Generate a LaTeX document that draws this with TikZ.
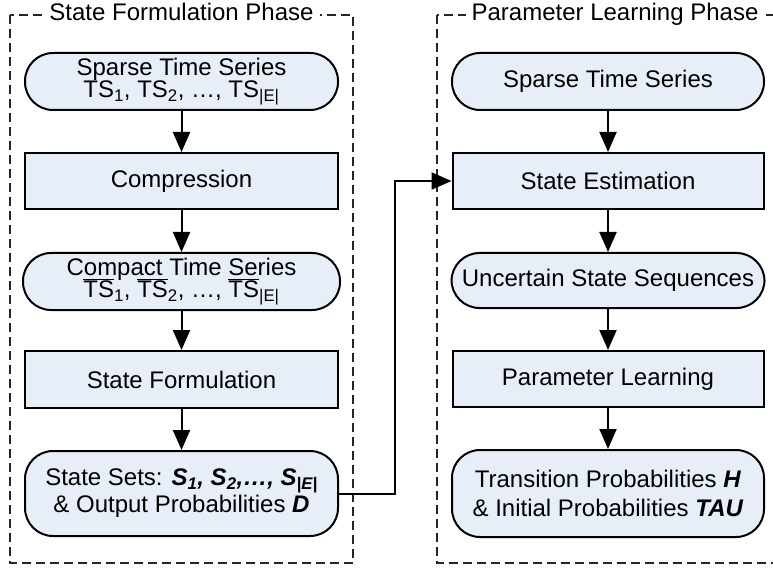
\documentclass[tikz,border=0pt]{standalone}
\usepackage{fontspec}
\setmainfont{Liberation Sans}
\usetikzlibrary{arrows.meta}
\definecolor{boxfill}{RGB}{232,238,248}
\newcommand{\bi}[1]{\textbf{\textit{#1}}}
\newcommand{\ovTS}{\smash{$\overline{\mbox{TS}}$}}
\begin{document}
\begin{tikzpicture}[x=1pt,y=-1pt,
  txt/.style={font=\fontsize{24}{22}\selectfont},
  base/.style={draw=black, line width=2pt, fill=boxfill, inner sep=2pt,
    align=center, txt, minimum height=57pt},
  procbox/.style={base, minimum width=313pt},
  pill/.style={base, rounded corners=28pt, minimum width=313pt},
  phase/.style={draw=black!85, line width=1.3pt, dash pattern=on 9pt off 5pt},
  phasetitle/.style={fill=white, inner xsep=6pt, inner ysep=2pt, anchor=base, txt},
  flow/.style={line width=2pt, -{Triangle[length=20pt,width=17pt]}}]
\useasboundingbox (0,0) rectangle (773,569);
\clip (0,0) rectangle (773,569);

% phase frames
\draw[phase] (10,15) rectangle (353,563);
\draw[phase] (437,15) rectangle (793,563);
\node[phasetitle] (t1) at (181.5,21) {State Formulation Phase};
\node[phasetitle] (t2) at (615,21) {Parameter Learning Phase};

% state formulation phase
\node[pill] (sts) at (181.5,81.5) {Sparse Time Series\\TS\textsubscript{1}, TS\textsubscript{2}, …, TS\textsubscript{|E|}};
\node[procbox, minimum height=56pt] (comp) at (181.5,181) {Compression};
\node[pill, minimum width=317pt] (cts) at (181.5,281.5) {Compact Time Series\\\ovTS\textsubscript{1}, \ovTS\textsubscript{2}, …, \ovTS\textsubscript{|E|}};
\node[procbox] (sf) at (181.5,379.5) {State Formulation};
\node[pill, minimum height=85pt, font=\fontsize{24}{27}\selectfont] (ss) at (181.5,493.5)
  {State Sets: \bi{S\textsubscript{1}, S\textsubscript{2},…, S\textsubscript{|E|}}\\\& Output Probabilities \bi{D}};

% parameter learning phase
\node[pill, minimum width=312pt] (sts2) at (608,81.5) {Sparse Time Series};
\node[procbox, minimum width=311pt, minimum height=56pt] (se) at (608,181) {State Estimation};
\node[pill, minimum height=55pt] (uss) at (608,280.5) {Uncertain State Sequences};
\node[procbox, minimum width=311pt, minimum height=56pt] (pl) at (608,379) {Parameter Learning};
\node[pill, minimum width=312pt, minimum height=87pt, font=\fontsize{24}{28.5}\selectfont] (tp) at (608,493.5)
  {Transition Probabilities \bi{H}\\\& Initial Probabilities \bi{TAU}};

% flow connectors
\draw[flow] (sts) -- (comp);
\draw[flow] (comp) -- (cts);
\draw[flow] (cts) -- (sf);
\draw[flow] (sf) -- (ss);
\draw[flow] (sts2) -- (se);
\draw[flow] (se) -- (uss);
\draw[flow] (uss) -- (pl);
\draw[flow] (pl) -- (tp);
\coordinate (bend) at (395,0);
\draw[flow] (ss.east) -- (ss.east -| bend) |- (se.west);
\end{tikzpicture}
\end{document}
